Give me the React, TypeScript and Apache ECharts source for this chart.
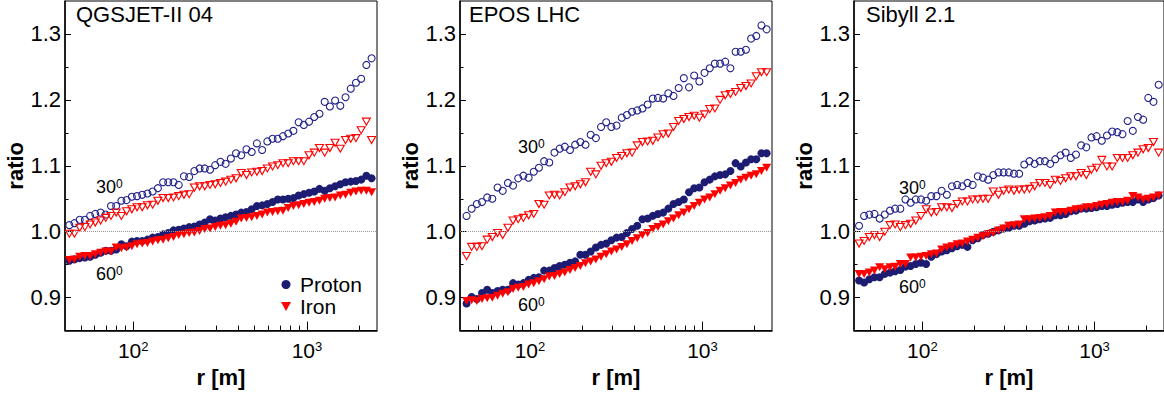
import React, { useEffect, useRef } from 'react';
import * as echarts from 'echarts';

const FONT = '"Liberation Sans", Arial, Helvetica, sans-serif';
const NAVY = '#1c1c72';
const RED = '#ff0000';

// r [m] sampling (log-spaced as in the reference)
const R = [42.9, 45.9, 49.2, 52.7, 56.5, 60.5, 64.9, 69.5, 74.5, 79.8,
  85.5, 91.6, 98.2, 105.2, 112.7, 120.8, 129.4, 138.7, 148.6, 159.2,
  170.6, 182.8, 195.9, 209.9, 224.9, 241.0, 258.2, 276.7, 296.5, 317.7,
  340.4, 364.8, 390.8, 418.8, 448.7, 480.8, 515.2, 552.1, 591.6, 633.9,
  679.2, 727.8, 779.8, 835.6, 895.4, 959.4, 1028, 1101.5, 1180.3, 1264.7,
  1355.2, 1452.1, 1556.0, 1667.2, 1786.5, 1914.3, 2051.2, 2197.8, 2355.0];

// QGSJET-II 04
const QGS_P30 = [1.010, 1.013, 1.018, 1.018, 1.024, 1.027, 1.029, 1.026, 1.039, 1.039,
  1.047, 1.048, 1.053, 1.054, 1.056, 1.058, 1.061, 1.066, 1.075, 1.075,
  1.075, 1.071, 1.084, 1.083, 1.092, 1.096, 1.096, 1.094, 1.101, 1.106,
  1.103, 1.111, 1.119, 1.116, 1.125, 1.121, 1.134, 1.124, 1.137, 1.141,
  1.141, 1.145, 1.149, 1.153, 1.166, 1.162, 1.167, 1.174, 1.179, 1.197,
  1.190, 1.199, 1.191, 1.204, 1.217, 1.226, 1.232, 1.253, 1.263];
const QGS_F30 = [0.997, 0.997, 1.006, 1.007, 1.011, 1.014, 1.017, 1.021, 1.024, 1.029,
  1.024, 1.031, 1.034, 1.037, 1.037, 1.040, 1.041, 1.047, 1.051, 1.051,
  1.052, 1.054, 1.056, 1.057, 1.067, 1.069, 1.069, 1.071, 1.072, 1.074,
  1.076, 1.079, 1.081, 1.089, 1.086, 1.090, 1.091, 1.092, 1.096, 1.099,
  1.101, 1.104, 1.104, 1.107, 1.107, 1.107, 1.116, 1.120, 1.127, 1.120,
  1.127, 1.135, 1.126, 1.139, 1.141, 1.142, 1.154, 1.167, 1.139];
const QGS_P60 = [0.956, 0.958, 0.960, 0.961, 0.962, 0.965, 0.968, 0.971, 0.971, 0.973,
  0.981, 0.978, 0.985, 0.986, 0.986, 0.988, 0.991, 0.992, 0.996, 0.998,
  1.002, 1.003, 1.005, 1.007, 1.008, 1.011, 1.014, 1.019, 1.017, 1.020,
  1.022, 1.024, 1.026, 1.029, 1.030, 1.034, 1.039, 1.040, 1.042, 1.045,
  1.049, 1.049, 1.050, 1.051, 1.055, 1.057, 1.059, 1.061, 1.065, 1.062,
  1.066, 1.069, 1.072, 1.075, 1.076, 1.077, 1.079, 1.085, 1.081];
const QGS_F60 = [0.957, 0.958, 0.962, 0.963, 0.963, 0.966, 0.968, 0.970, 0.970, 0.976,
  0.975, 0.976, 0.978, 0.981, 0.982, 0.983, 0.985, 0.987, 0.988, 0.990,
  0.992, 0.995, 0.996, 0.998, 0.999, 1.001, 1.004, 1.005, 1.007, 1.009,
  1.010, 1.012, 1.015, 1.020, 1.021, 1.022, 1.024, 1.026, 1.029, 1.030,
  1.031, 1.032, 1.036, 1.039, 1.040, 1.042, 1.044, 1.045, 1.047, 1.050,
  1.051, 1.052, 1.055, 1.056, 1.059, 1.061, 1.062, 1.062, 1.060];

// EPOS LHC
const EPOS_P30 = [1.024, 1.035, 1.042, 1.045, 1.052, 1.050, 1.067, 1.062, 1.074, 1.070,
  1.081, 1.085, 1.082, 1.091, 1.097, 1.107, 1.105, 1.120, 1.126, 1.129,
  1.124, 1.132, 1.136, 1.132, 1.147, 1.142, 1.159, 1.166, 1.159, 1.161,
  1.173, 1.177, 1.182, 1.184, 1.187, 1.193, 1.202, 1.203, 1.202, 1.210,
  1.206, 1.218, 1.233, 1.219, 1.237, 1.228, 1.241, 1.248, 1.255, 1.255,
  1.258, 1.248, 1.273, 1.273, 1.276, 1.293, 1.297, 1.313, 1.307];
const EPOS_F30 = [0.963, 0.977, 0.977, 0.978, 0.988, 0.992, 0.998, 0.995, 1.006, 1.017,
  1.019, 1.021, 1.025, 1.027, 1.042, 1.041, 1.055, 1.056, 1.055, 1.060,
  1.067, 1.069, 1.072, 1.075, 1.091, 1.087, 1.100, 1.104, 1.106, 1.112,
  1.115, 1.119, 1.120, 1.131, 1.136, 1.137, 1.138, 1.143, 1.148, 1.149,
  1.159, 1.168, 1.171, 1.174, 1.176, 1.173, 1.178, 1.186, 1.187, 1.200,
  1.207, 1.209, 1.212, 1.218, 1.221, 1.225, 1.236, 1.242, 1.242];
const EPOS_P60 = [0.891, 0.901, 0.898, 0.907, 0.912, 0.907, 0.910, 0.912, 0.912, 0.922,
  0.920, 0.922, 0.927, 0.930, 0.931, 0.941, 0.941, 0.945, 0.948, 0.950,
  0.953, 0.955, 0.965, 0.965, 0.970, 0.976, 0.980, 0.982, 0.987, 0.991,
  0.992, 0.998, 1.004, 1.009, 1.019, 1.020, 1.024, 1.027, 1.029, 1.035,
  1.042, 1.045, 1.049, 1.060, 1.066, 1.067, 1.075, 1.079, 1.084, 1.086,
  1.087, 1.092, 1.104, 1.099, 1.105, 1.110, 1.110, 1.119, 1.119];
const EPOS_F60 = [0.895, 0.896, 0.895, 0.898, 0.899, 0.900, 0.903, 0.906, 0.908, 0.913,
  0.915, 0.916, 0.920, 0.922, 0.925, 0.928, 0.932, 0.933, 0.936, 0.938,
  0.942, 0.945, 0.948, 0.952, 0.955, 0.958, 0.962, 0.966, 0.970, 0.973,
  0.977, 0.981, 0.986, 0.990, 0.995, 0.998, 1.004, 1.007, 1.011, 1.016,
  1.020, 1.025, 1.029, 1.034, 1.039, 1.044, 1.049, 1.052, 1.057, 1.062,
  1.066, 1.070, 1.074, 1.079, 1.082, 1.085, 1.087, 1.092, 1.097];

// Sibyll 2.1
const SIB_P30 = [1.009, 1.024, 1.026, 1.027, 1.020, 1.026, 1.032, 1.035, 1.035, 1.049,
  1.044, 1.049, 1.049, 1.047, 1.054, 1.054, 1.062, 1.056, 1.069, 1.071,
  1.069, 1.074, 1.071, 1.084, 1.082, 1.079, 1.086, 1.090, 1.090, 1.090,
  1.088, 1.088, 1.102, 1.107, 1.103, 1.107, 1.107, 1.103, 1.110, 1.116,
  1.120, 1.112, 1.117, 1.131, 1.128, 1.143, 1.145, 1.138, 1.146, 1.152,
  1.151, 1.148, 1.168, 1.153, 1.174, 1.170, 1.203, 1.197, 1.223];
const SIB_F30 = [0.982, 0.986, 0.992, 0.995, 0.992, 1.000, 1.010, 1.011, 1.007, 1.010,
  1.012, 1.017, 1.024, 1.034, 1.029, 1.030, 1.037, 1.037, 1.036, 1.042,
  1.046, 1.046, 1.049, 1.049, 1.050, 1.050, 1.061, 1.056, 1.062, 1.064,
  1.062, 1.064, 1.064, 1.065, 1.069, 1.074, 1.074, 1.071, 1.079, 1.077,
  1.081, 1.084, 1.084, 1.089, 1.086, 1.094, 1.097, 1.109, 1.099, 1.099,
  1.112, 1.112, 1.112, 1.116, 1.120, 1.125, 1.127, 1.136, 1.120];
const SIB_P60 = [0.926, 0.923, 0.928, 0.931, 0.931, 0.936, 0.938, 0.940, 0.942, 0.947,
  0.948, 0.951, 0.953, 0.951, 0.962, 0.966, 0.970, 0.972, 0.975, 0.978,
  0.980, 0.977, 0.987, 0.990, 0.995, 0.997, 1.000, 1.002, 1.005, 1.006,
  1.009, 1.009, 1.012, 1.016, 1.017, 1.019, 1.020, 1.021, 1.025, 1.025,
  1.027, 1.031, 1.032, 1.035, 1.035, 1.036, 1.037, 1.039, 1.039, 1.041,
  1.042, 1.044, 1.045, 1.045, 1.049, 1.045, 1.049, 1.051, 1.055];
const SIB_F60 = [0.936, 0.936, 0.938, 0.941, 0.946, 0.943, 0.946, 0.947, 0.951, 0.951,
  0.961, 0.961, 0.962, 0.963, 0.966, 0.967, 0.973, 0.976, 0.978, 0.981,
  0.982, 0.985, 0.988, 0.991, 0.993, 0.996, 0.998, 1.002, 1.005, 1.009,
  1.010, 1.011, 1.019, 1.019, 1.020, 1.021, 1.022, 1.024, 1.029, 1.030,
  1.030, 1.032, 1.034, 1.035, 1.037, 1.037, 1.039, 1.041, 1.042, 1.044,
  1.045, 1.045, 1.047, 1.054, 1.052, 1.049, 1.050, 1.052, 1.055];

const MODELS = ['QGSJET-II 04', 'EPOS LHC', 'Sibyll 2.1'];
const P30 = [QGS_P30, EPOS_P30, SIB_P30];
const F30 = [QGS_F30, EPOS_F30, SIB_F30];
const P60 = [QGS_P60, EPOS_P60, SIB_P60];
const F60 = [QGS_F60, EPOS_F60, SIB_F60];

const X_MAJOR = [100, 1000];
const X_MINOR = [50, 60, 70, 80, 90, 200, 300, 400, 500, 600, 700, 800, 900, 2000];
const Y_MAJOR = [0.9, 1.0, 1.1, 1.2, 1.3];
const Y_MINOR = [0.95, 1.05, 1.15, 1.25];
const ANGLE_LABELS = ['30', '60'];

// layout
const GRID_LEFT = [65, 460, 854];
const GRID_TOP = 1;
const GRID_W = 312;
const GRID_H = 332;
const X_MIN = [40.5, 39.3, 40.1];
const X_MAX = [2530, 2530, 2530];
const TITLE_POS = [[76, 3], [469, 3], [866, 3]];
const A30_POS = [[96, 178], [518, 138], [899, 179]];
const A60_POS = [[96, 265], [518, 296], [899, 278]];

const TRI_DOWN = 'path://M0,0 L10,0 L5,9 Z';

const pairs = (ys: number[]) => ys.map((y, i) => [R[i], y]);

export default function App() {
  const ref = useRef<HTMLDivElement>(null);
  useEffect(() => {
    document.body.style.margin = '0';
    const chart = echarts.init(ref.current!, null, { renderer: 'svg', width: 1164, height: 393 });

    const grids: any[] = [];
    const xAxes: any[] = [];
    const yAxes: any[] = [];
    const series: any[] = [];
    const graphics: any[] = [];

    for (let g = 0; g < 3; g++) {
      grids.push({
        left: GRID_LEFT[g], top: GRID_TOP, width: GRID_W, height: GRID_H,
        show: true, borderColor: '#000', borderWidth: 1, containLabel: false,
      });
      const xCommon = { type: 'log', logBase: 10, gridIndex: g, min: X_MIN[g], max: X_MAX[g], position: 'bottom', splitLine: { show: false } };
      xAxes.push({
        ...xCommon,
        axisLine: { show: true, onZero: false, lineStyle: { color: '#000', width: 1.5 } },
        axisTick: { show: true, inside: true, length: 9, customValues: X_MAJOR, lineStyle: { color: '#000', width: 1 } },
        axisLabel: {
          show: true, customValues: X_MAJOR, margin: 9,
          formatter: (v: number) => `{b|10}{s|${Math.round(Math.log10(v))}}`,
          rich: {
            b: { fontSize: 21, fontFamily: FONT, color: '#000', lineHeight: 22 },
            s: { fontSize: 13, fontFamily: FONT, color: '#000', lineHeight: 13, verticalAlign: 'top' },
          },
        },
        name: 'r [m]', nameLocation: 'middle', nameGap: 33,
        nameTextStyle: { fontSize: 22, fontWeight: 'bold', fontFamily: FONT, color: '#000' },
      });
      xAxes.push({
        ...xCommon,
        axisLine: { show: false },
        axisTick: { show: true, inside: true, length: 5, customValues: X_MINOR, lineStyle: { color: '#000', width: 1 } },
        axisLabel: { show: false },
      });
      const yCommon = { type: 'value', gridIndex: g, min: 0.85, max: 1.35, position: 'left', splitLine: { show: false } };
      yAxes.push({
        ...yCommon,
        axisLine: { show: true, onZero: false, lineStyle: { color: '#000', width: 1.5 } },
        axisTick: { show: true, inside: true, length: 6, customValues: Y_MAJOR, lineStyle: { color: '#000', width: 1 } },
        axisLabel: {
          show: true, customValues: Y_MAJOR, margin: 4,
          formatter: (v: number) => v.toFixed(1),
          fontSize: 22, fontFamily: FONT, color: '#000',
        },
        name: 'ratio', nameLocation: 'middle', nameGap: 34, nameRotate: 90,
        nameTextStyle: { fontSize: 22, fontWeight: 'bold', fontFamily: FONT, color: '#000' },
      });
      yAxes.push({
        ...yCommon,
        axisLine: { show: false },
        axisTick: { show: true, inside: true, length: 3.5, customValues: Y_MINOR, lineStyle: { color: '#000', width: 1 } },
        axisLabel: { show: false },
      });

      const ax = { xAxisIndex: 2 * g, yAxisIndex: 2 * g };
      series.push({
        ...ax, type: 'scatter', name: 'Proton 30', data: pairs(P30[g]),
        symbol: 'circle', symbolSize: 7,
        itemStyle: { color: 'rgba(0,0,0,0)', borderColor: '#22228a', borderWidth: 1.1, opacity: 1 },
        markLine: {
          silent: true, symbol: 'none', label: { show: false },
          lineStyle: { type: 'dotted', color: '#999', width: 1 },
          data: [{ yAxis: 1.0 }],
        },
      });
      series.push({
        ...ax, type: 'scatter', name: 'Iron 30', data: pairs(F30[g]),
        symbol: TRI_DOWN, symbolSize: [8, 7],
        itemStyle: { color: 'rgba(0,0,0,0)', borderColor: RED, borderWidth: 1.1, opacity: 1 },
      });
      series.push({
        ...ax, type: 'scatter', name: 'Proton', data: pairs(P60[g]),
        symbol: 'circle', symbolSize: 8,
        itemStyle: { color: NAVY, opacity: 1 },
      });
      series.push({
        ...ax, type: 'scatter', name: 'Iron', data: pairs(F60[g]),
        symbol: TRI_DOWN, symbolSize: [9, 8],
        itemStyle: { color: RED, opacity: 1 },
      });

      graphics.push({
        type: 'text', left: TITLE_POS[g][0], top: TITLE_POS[g][1],
        style: { text: MODELS[g], fontSize: 22, fontFamily: FONT, fill: '#000' },
      });
      const ang = [A30_POS[g], A60_POS[g]];
      ang.forEach((p, k) => {
        graphics.push({
          type: 'text', left: p[0], top: p[1],
          style: {
            text: `{a|${ANGLE_LABELS[k]}}{b|0}`,
            rich: {
              a: { fontSize: 18, fontFamily: FONT, fill: '#000', lineHeight: 18 },
              b: { fontSize: 12, fontFamily: FONT, fill: '#000', lineHeight: 12, verticalAlign: 'top' },
            },
          },
        });
      });
    }

    chart.setOption({
      animation: false,
      backgroundColor: '#fff',
      grid: grids,
      xAxis: xAxes,
      yAxis: yAxes,
      series,
      graphic: graphics,
      legend: {
        show: true, orient: 'vertical', left: 281, top: 274, padding: 0,
        itemWidth: 18, itemHeight: 9, itemGap: 1,
        data: ['Proton', 'Iron'],
        textStyle: { fontSize: 21, lineHeight: 20, fontFamily: FONT, color: '#000' },
        selectedMode: false,
      },
    });
    return () => chart.dispose();
  }, []);
  return <div ref={ref} style={{ width: 1164, height: 393 }} />;
}
